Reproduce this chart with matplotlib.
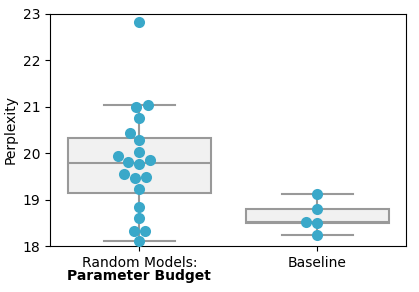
import numpy as np
import matplotlib
matplotlib.use("Agg")
import matplotlib.pyplot as plt
import pandas as pd
import seaborn as sns

# perplexity values
random_models = [22.82, 21.03, 20.99, 20.76, 20.43, 20.28, 20.02, 19.94, 19.85, 19.82,
                 19.77, 19.55, 19.49, 19.46, 19.24, 18.85, 18.61, 18.32, 18.32, 18.11]
baseline = [19.12, 18.81, 18.52, 18.49, 18.24]
categories = ["Random Models:", "Baseline"]

df = pd.DataFrame({
    "group": [categories[0]] * len(random_models) + [categories[1]] * len(baseline),
    "ppl": random_models + baseline,
})

fig, ax = plt.subplots(figsize=(4.19, 2.92), dpi=100)
sns.boxplot(data=df, x="group", y="ppl", order=categories, color="#f1f1f1",
            showfliers=False, width=0.8, linecolor="#999999", linewidth=1.5, ax=ax)
sns.swarmplot(data=df, x="group", y="ppl", order=categories, color="#3aa8c9",
              size=8, ax=ax)

ax.set_ylim(18, 23)
ax.set_yticks([18, 19, 20, 21, 22, 23])
ax.set_xlabel("")
ax.set_ylabel("Perplexity", fontsize=10)
ax.tick_params(labelsize=10)
ax.text(0, -0.098, "Parameter Budget", transform=ax.get_xaxis_transform(),
        ha="center", va="top", fontsize=10, fontweight="bold")

plt.subplots_adjust(left=0.12, right=0.97, top=0.953, bottom=0.157)
plt.savefig("out.png", dpi=100)
